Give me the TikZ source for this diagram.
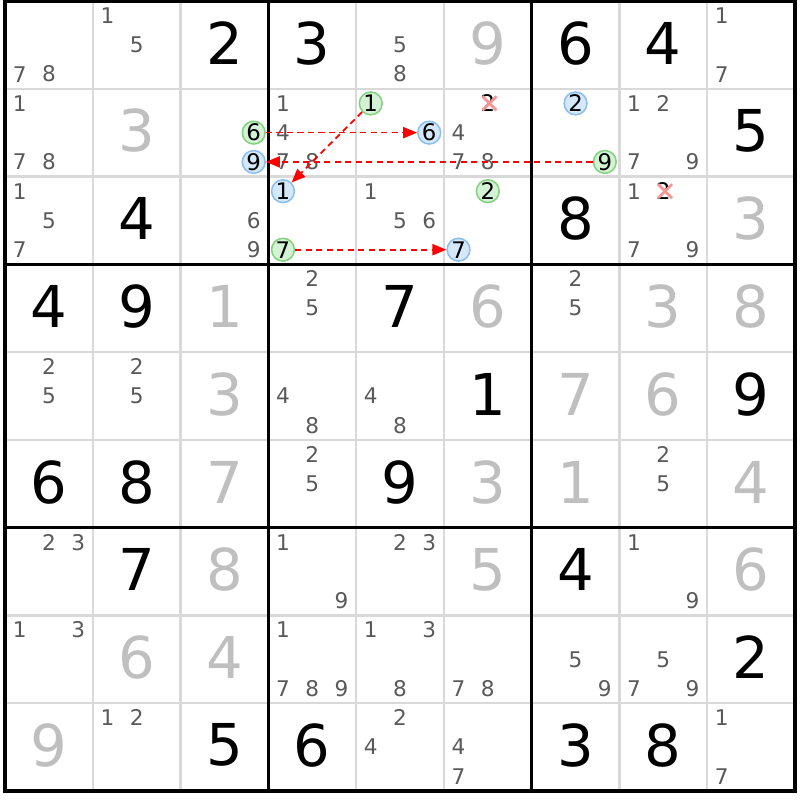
\documentclass[tikz,border=0pt]{standalone}
\usepackage{fontspec}
\setmainfont{DejaVu Sans}
\usetikzlibrary{arrows.meta}

\begin{document}
\begin{tikzpicture}[x=1cm,y=-1cm]
\useasboundingbox (-0.057,-0.011) rectangle (9.057,9.1025);

% grid
\begin{scope}[every path/.style={draw=black!15,line width=0.7pt}]
    \foreach \i in {1,2,4,5,7,8} {
        \draw (\i,0) -- (\i,9);
        \draw (0,\i) -- (9,\i);
    }
\end{scope}
\begin{scope}[every path/.style={draw=black,line width=1.1pt}]
    \foreach \i in {3,6} {
        \draw (\i,0) -- (\i,9);
        \draw (0,\i) -- (9,\i);
    }
    \draw[line width=1.5pt] (0,0) rectangle (9,9);
\end{scope}

% givens and solved cells
\begin{scope}[every node/.style={inner sep=0pt,font=\fontsize{18.7}{20}\selectfont}]
    \foreach \r/\c/\d in {1/3/2, 1/4/3, 1/7/6, 1/8/4, 2/9/5, 3/2/4, 3/7/8, 4/1/4,
        4/2/9, 4/5/7, 5/6/1, 5/9/9, 6/1/6, 6/2/8, 6/5/9, 7/2/7, 7/7/4, 8/9/2,
        9/3/5, 9/4/6, 9/7/3, 9/8/8}
        \node (given-\r-\c) at (\c-0.5,\r-0.52) [text=black] {\d};
    \foreach \r/\c/\d in {1/6/9, 2/2/3, 3/9/3, 4/3/1, 4/6/6, 4/8/3, 4/9/8, 5/3/3,
        5/7/7, 5/8/6, 6/3/7, 6/6/3, 6/7/1, 6/9/4, 7/3/8, 7/6/5, 7/9/6, 8/2/6,
        8/3/4, 9/1/9}
        \node (solved-\r-\c) at (\c-0.5,\r-0.52) [text=black!25] {\d};
\end{scope}

% candidates
\begin{scope}[every node/.style={inner sep=0pt,text=black!65,font=\fontsize{7}{8}\selectfont}]
    \foreach \r/\c/\n in {1/1/7, 1/1/8, 1/2/1, 1/2/5, 1/5/5, 1/5/8, 1/9/1, 1/9/7,
        2/1/1, 2/1/7, 2/1/8, 2/4/1, 2/4/4, 2/4/7, 2/4/8, 2/6/4, 2/6/7, 2/6/8,
        2/8/1, 2/8/2, 2/8/7, 2/8/9,
        3/1/1, 3/1/5, 3/1/7, 3/3/6, 3/3/9, 3/5/1, 3/5/5, 3/5/6, 3/8/1, 3/8/7, 3/8/9,
        4/4/2, 4/4/5, 4/7/2, 4/7/5,
        5/1/2, 5/1/5, 5/2/2, 5/2/5, 5/4/4, 5/4/8, 5/5/4, 5/5/8,
        6/4/2, 6/4/5, 6/8/2, 6/8/5,
        7/1/2, 7/1/3, 7/4/1, 7/4/9, 7/5/2, 7/5/3, 7/8/1, 7/8/9,
        8/1/1, 8/1/3, 8/4/1, 8/4/7, 8/4/8, 8/4/9, 8/5/1, 8/5/3, 8/5/8, 8/6/7, 8/6/8,
        8/7/5, 8/7/9, 8/8/5, 8/8/7, 8/8/9,
        9/2/1, 9/2/2, 9/5/2, 9/5/4, 9/6/4, 9/6/7, 9/9/1, 9/9/7}
        \node (cand-\r-\c-\n) at ({\c-1+(mod(\n-1,3)+0.5)/3},{\r-1+(floor((\n-1)/3)+0.5)/3}) {\n};
\end{scope}

% highlighted candidates
\begin{scope}[every node/.style={circle,inner sep=0pt,minimum size=0.26cm,line width=0.5pt,
        text=black,font=\fontsize{7.4}{8}\selectfont},
    start/.style={draw={rgb,255:red,130;green,210;blue,130},fill={rgb,255:red,212;green,242;blue,212}},
    target/.style={draw={rgb,255:red,140;green,190;blue,240},fill={rgb,255:red,212;green,232;blue,250}}]
    \node (green6) at (2.8333,1.5) [start] {6};
    \node (blue9) at (2.8333,1.8333) [target] {9};
    \node (green1) at (4.1667,1.1667) [start] {1};
    \node (blue6) at (4.8333,1.5) [target] {6};
    \node (blue2) at (6.5,1.1667) [target] {2};
    \node (green9) at (6.8333,1.8333) [start] {9};
    \node (blue1) at (3.1667,2.1667) [target] {1};
    \node (green7) at (3.1667,2.8333) [start] {7};
    \node (green2) at (5.5,2.1667) [start] {2};
    \node (blue7) at (5.1667,2.8333) [target] {7};

    % eliminated
    \node (out1) at (5.5,1.1667) [circle] {2};
    \node (out2) at (7.5,2.1667) [circle] {2};
\end{scope}

\begin{scope}[every path/.style={draw={rgb,255:red,245;green,150;blue,150},line width=0.9pt}]
    \foreach \x in {out1,out2} {
        \draw ([shift={(-0.06,-0.08)}]\x.center) -- ([shift={(0.1,0.08)}]\x.center);
        \draw ([shift={(-0.06,0.08)}]\x.center) -- ([shift={(0.1,-0.08)}]\x.center);
    }
\end{scope}

\begin{scope}[>={Triangle[length=4.5pt,width=3.6pt]},
              every edge/.style={draw=red,line width=0.55pt,dash pattern=on 2pt off 1.4pt}]
    \path [->] (green1) edge (blue1);
    \path [->] (green6) edge (blue6);
    \path [->] (green9) edge (blue9);
    \path [->] (green7) edge (blue7);
\end{scope}
\end{tikzpicture}
\end{document}
